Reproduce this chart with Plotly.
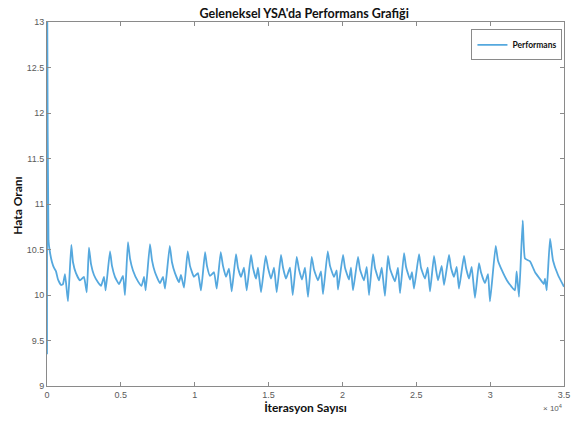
import plotly.graph_objects as go

# Iteration number and error rate
iterations = [
    0, 20, 100, 200, 340, 470, 610, 745, 950, 1080, 1220, 1420,
    1645, 1760, 1960, 2230, 2500, 2690,
    2840, 2980, 3180, 3450, 3660, 3860, 3970,
    4265, 4400, 4600, 4875, 5145, 5280,
    5480, 5620, 5820, 6160, 6400, 6570, 6680,
    6970, 7110, 7310, 7650, 7855, 7990,
    8310, 8460, 8665, 8935, 9070, 9275,
    9525, 9680, 9950, 10220, 10425,
    10700, 10830, 11035, 11305, 11490,
    11760, 11915, 12120, 12320, 12505,
    12795, 12930, 13135, 13335, 13520,
    13810, 13945, 14150, 14285, 14490,
    14805, 14960, 15165, 15370, 15550,
    15840, 15980, 16180, 16450, 16635,
    16905, 17060, 17265, 17465, 17670,
    17920, 18075, 18345, 18550, 18685,
    19005, 19160, 19430, 19610, 19700,
    20040, 20175, 20445, 20580, 20715,
    21055, 21190, 21460, 21645, 21800,
    22070, 22205, 22475, 22660, 22880,
    23085, 23220, 23560, 23760, 23900,
    24170, 24305, 24575, 24710, 24845,
    25185, 25320, 25590, 25775, 25930,
    26200, 26335, 26470, 26720, 26880,
    27215, 27350, 27555, 27735, 27890,
    28230, 28365, 28570, 28750, 28975,
    29245, 29380, 29650, 29855, 29990,
    30375, 30530, 30800, 31140, 31455, 31680, 31795, 31955,
    32205, 32360, 32700, 33040, 33490, 33630, 33715, 33830,
    34055, 34255, 34595, 35000,
]
error_rate = [
    9.35, 13.0, 10.6, 10.47, 10.36, 10.3, 10.26, 10.17, 10.11, 10.12, 10.23, 9.93,
    10.55, 10.36, 10.24, 10.16, 10.2, 10.03,
    10.52, 10.34, 10.22, 10.14, 10.1, 10.2, 10.05,
    10.48, 10.32, 10.2, 10.12, 10.21, 10.0,
    10.58, 10.4, 10.27, 10.15, 10.1, 10.2, 10.05,
    10.56, 10.38, 10.25, 10.13, 10.2, 10.07,
    10.54, 10.36, 10.24, 10.14, 10.22, 10.08,
    10.48, 10.32, 10.2, 10.24, 10.05,
    10.47, 10.32, 10.21, 10.25, 10.07,
    10.47, 10.32, 10.2, 10.29, 10.04,
    10.45, 10.3, 10.2, 10.3, 10.05,
    10.44, 10.3, 10.18, 10.3, 10.03,
    10.43, 10.3, 10.18, 10.3, 10.03,
    10.44, 10.3, 10.18, 10.3, 10.0,
    10.42, 10.28, 10.17, 10.3, 9.98,
    10.42, 10.28, 10.16, 10.26, 10.01,
    10.48, 10.32, 10.2, 10.27, 10.06,
    10.44, 10.3, 10.17, 10.3, 10.05,
    10.42, 10.28, 10.16, 10.31, 10.0,
    10.45, 10.3, 10.16, 10.3, 9.99,
    10.43, 10.29, 10.15, 10.3, 10.02,
    10.46, 10.31, 10.17, 10.25, 10.07,
    10.45, 10.3, 10.18, 10.3, 10.04,
    10.43, 10.28, 10.16, 10.32, 10.11,
    10.44, 10.3, 10.2, 10.31, 10.07,
    10.43, 10.3, 10.18, 10.31, 9.97,
    10.35, 10.25, 10.13, 10.23, 9.93,
    10.54, 10.38, 10.27, 10.16, 10.09, 10.05, 10.26, 9.98,
    10.82, 10.4, 10.37, 10.25, 10.15, 10.12, 10.18, 10.05,
    10.62, 10.38, 10.22, 10.09,
]

x_tick_vals = [0, 5000, 10000, 15000, 20000, 25000, 30000, 35000]
x_tick_text = ["0", "0.5", "1", "1.5", "2", "2.5", "3", "3.5"]
y_tick_vals = [9, 9.5, 10, 10.5, 11, 11.5, 12, 12.5, 13]

fig = go.Figure()
fig.add_trace(go.Scatter(
    x=iterations, y=error_rate, mode="lines", name="<b>Performans</b>",
    line=dict(color="#55a8de", width=1.8, shape="spline", smoothing=0.4),
))

axis_common = dict(
    showgrid=False, zeroline=False, showline=True, linecolor="#8a8a8a",
    linewidth=1, mirror="ticks", ticks="inside", ticklen=4,
    tickcolor="#8a8a8a", automargin=False,
    tickfont=dict(family="Liberation Sans", size=9, color="#5a5a5a"),
)

fig.update_layout(
    width=574, height=421,
    margin=dict(l=47, r=10, t=22, b=35, autoexpand=False),
    paper_bgcolor="white", plot_bgcolor="white",
    title=dict(text="<b>Geleneksel YSA'da Performans Grafiği</b>",
               x=0.53, xanchor="center", y=0.978, yanchor="top",
               font=dict(family="Lato", size=12.5, color="#111")),
    xaxis=dict(range=[0, 35000], tickvals=x_tick_vals, ticktext=x_tick_text,
               title=dict(text="<b>İterasyon Sayısı</b>", standoff=4,
                          font=dict(family="Lato", size=12, color="#111")),
               **axis_common),
    yaxis=dict(range=[9, 13], tickvals=y_tick_vals, **axis_common),
    legend=dict(x=0.997, xanchor="right", y=0.98, yanchor="top",
                bordercolor="#8a8a8a", borderwidth=1, bgcolor="white",
                font=dict(family="Lato", size=8.5, color="#111"),
                itemwidth=30, tracegroupgap=0),
    showlegend=True,
    annotations=[
        dict(text="× 10<sup>4</sup>", xref="paper", yref="paper",
             x=1.0, y=-0.04, xanchor="right", yanchor="top", showarrow=False,
             font=dict(family="Liberation Sans", size=8, color="#5a5a5a")),
        dict(text="<b>Hata Oranı</b>", xref="paper", yref="paper",
             x=-0.056, y=0.495, xanchor="center", yanchor="middle",
             textangle=-90, showarrow=False,
             font=dict(family="Lato", size=12, color="#111")),
    ],
)

fig.write_html("out.html", config={"displayModeBar": False},
               post_script="document.body.style.margin='0';document.body.style.overflow='hidden';")
